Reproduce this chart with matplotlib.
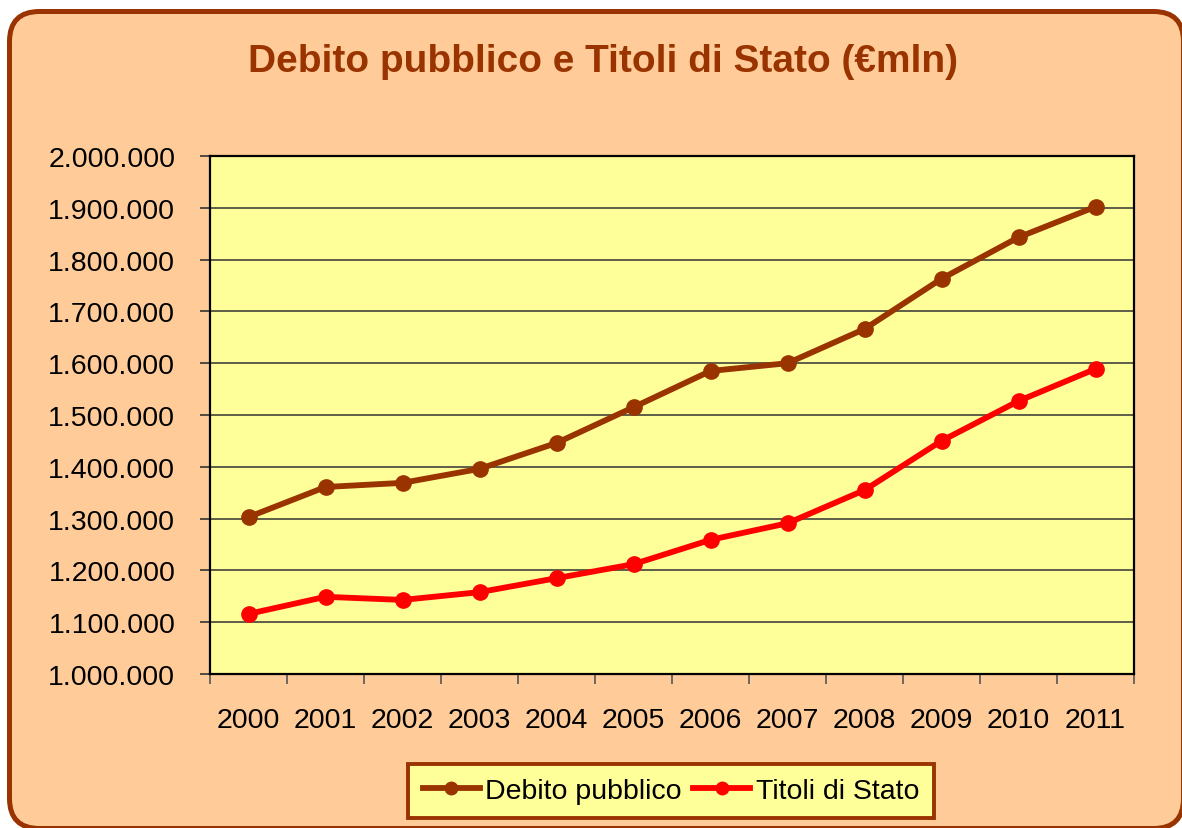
import matplotlib
matplotlib.use("Agg")
import matplotlib.pyplot as plt
from matplotlib.patches import FancyBboxPatch
from matplotlib.transforms import IdentityTransform
from matplotlib.ticker import FuncFormatter
import numpy as np

plt.rcParams['font.family'] = ['Liberation Sans', 'DejaVu Sans']

# dati (milioni di euro)
years = ['2000', '2001', '2002', '2003', '2004', '2005',
         '2006', '2007', '2008', '2009', '2010', '2011']
debito = [1303000, 1361000, 1369000, 1396000, 1446000, 1515000,
          1585000, 1600000, 1666000, 1763000, 1843000, 1902000]
titoli = [1116000, 1149000, 1143000, 1158000, 1185000, 1212000,
          1259000, 1291000, 1355000, 1450000, 1527000, 1589000]

BROWN = '#993300'
RED = '#FF0000'

fig = plt.figure(figsize=(11.82, 8.29), dpi=100, facecolor='white')

# sfondo arrotondato (coordinate in pixel), tagliato a destra e in basso
bg = FancyBboxPatch((9.5, -0.5), 1174, 829 - 12.5 + 0.5,
                    boxstyle='round,pad=0,rounding_size=30',
                    transform=IdentityTransform(),
                    facecolor='#FFCC99', edgecolor=BROWN, linewidth=3.6,
                    zorder=-10)
fig.patches.append(bg)

ax = fig.add_axes([210 / 1182, 154 / 829, 924 / 1182, 518 / 829])
ax.set_facecolor('#FFFF99')

x = np.arange(len(years))
ax.plot(x, debito, color=BROWN, lw=4.2, marker='o', ms=11, label='Debito pubblico')
ax.plot(x, titoli, color=RED, lw=4.2, marker='o', ms=11, label='Titoli di Stato')

ax.set_xlim(-0.5, len(years) - 0.5)
ax.set_ylim(1000000, 2000000)
ax.set_yticks(np.arange(1000000, 2000001, 100000))
ax.yaxis.set_major_formatter(FuncFormatter(lambda v, p: f'{int(v):,}'.replace(',', '.')))
ax.grid(axis='y', color='#333333', lw=1.1)
ax.set_axisbelow(True)

ax.set_xticks(np.arange(-0.5, len(years), 1))
ax.set_xticklabels([])
ax.set_xticks(x, minor=True)
ax.set_xticklabels(years, minor=True)
ax.tick_params(axis='x', which='major', length=7, width=1.2, color='#555555', direction='out')
ax.tick_params(axis='x', which='minor', length=0, pad=24, labelsize=20.5)
ax.tick_params(axis='y', length=7, width=1.2, color='#333333', direction='out',
               pad=18, labelsize=20.5)

for s in ax.spines.values():
    s.set_color('black')
    s.set_linewidth(1.6)

fig.text(0.51, 0.925, 'Debito pubblico e Titoli di Stato (€mln)',
         ha='center', va='center', fontsize=28, fontweight='bold', color=BROWN)

leg = fig.legend(loc='center', bbox_to_anchor=(671 / 1182, 1 - 792 / 829), ncol=2,
                 fontsize=20.5, frameon=True, fancybox=False, framealpha=1,
                 facecolor='#FFFF99', edgecolor=BROWN, handlelength=2.0,
                 handletextpad=0.2, columnspacing=0.4, borderpad=0.5,
                 borderaxespad=0)
leg.get_frame().set_linewidth(2.8)
for h in leg.legend_handles:
    h.set_markersize(9)

fig.savefig('out.png', dpi=100, facecolor=fig.get_facecolor())
